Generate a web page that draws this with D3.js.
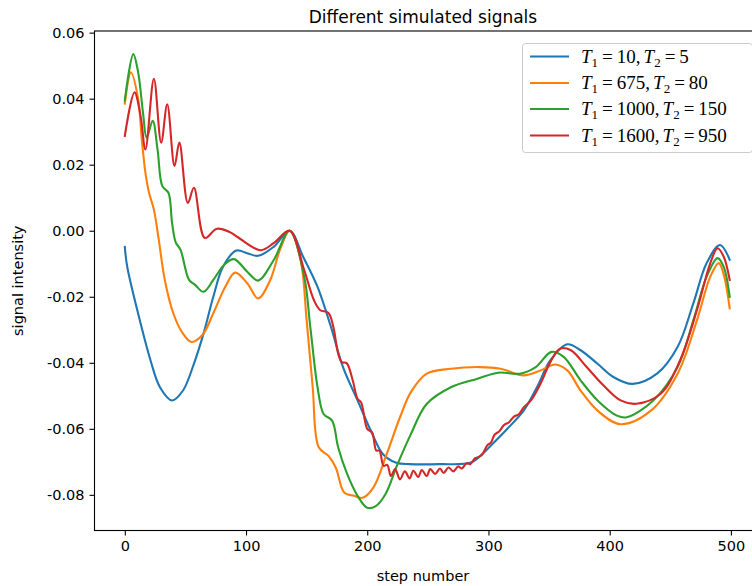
<!DOCTYPE html>
<html>
<head>
<meta charset="utf-8">
<script src="https://cdn.jsdelivr.net/npm/d3@7"></script>
<style>
  html, body { margin: 0; padding: 0; background: #fff; }
  svg { display: block; }
</style>
</head>
<body>
<svg id="chart" width="752" height="586"></svg>
<script>
// ---------- data ----------
const title = "Different simulated signals";
const xLabel = "step number";
const yLabel = "signal intensity";
const xTicks = [0, 100, 200, 300, 400, 500];
const yTicks = [0.06, 0.04, 0.02, 0.00, -0.02, -0.04, -0.06, -0.08];
const yTickLabels = ["0.06", "0.04", "0.02", "0.00", "-0.02", "-0.04", "-0.06", "-0.08"];

const seriesNames = [
  ["10", "5"],
  ["675", "80"],
  ["1000", "150"],
  ["1600", "950"]
];
const seriesColors = ["#1f77b4", "#ff7f0e", "#2ca02c", "#d62728"];

const blueSteps = [0, 2, 13, 21, 29, 39, 48, 57, 65, 73, 81, 92, 101, 110, 123, 136, 147, 159, 170, 180, 192, 203, 213, 224, 235, 260, 285, 293, 300, 315, 329, 340, 351, 365, 376, 390, 403, 419, 439, 456, 469, 480, 491, 499];
const blueValues = [-0.0049, -0.0109, -0.028, -0.039, -0.0474, -0.0514, -0.0484, -0.0403, -0.0311, -0.020, -0.0109, -0.006, -0.0068, -0.0076, -0.0048, 0.0, -0.0078, -0.017, -0.0291, -0.0413, -0.0514, -0.0606, -0.0677, -0.0703, -0.0707, -0.0707, -0.0703, -0.0683, -0.0658, -0.0602, -0.0545, -0.0474, -0.0393, -0.0344, -0.0362, -0.0403, -0.0443, -0.0464, -0.0433, -0.0352, -0.022, -0.0098, -0.0043, -0.0088];

const orangeSteps = [0, 5, 11, 14, 17, 20, 24, 28, 33, 40, 47, 55, 64, 73, 83, 91, 101, 110, 120, 128, 136, 145, 150, 155, 160, 168, 174, 181, 189, 196, 205, 216, 227, 236, 249, 269, 293, 310, 329, 343, 355, 365, 376, 390, 409, 434, 456, 472, 483, 490, 494.5, 499];
const orangeValues = [0.0385, 0.048, 0.0399, 0.0277, 0.0176, 0.0115, 0.0064, -0.0027, -0.0149, -0.025, -0.0306, -0.0337, -0.0316, -0.025, -0.0169, -0.0127, -0.0159, -0.0205, -0.0149, -0.0058, 0.0, -0.0088, -0.0271, -0.0474, -0.0656, -0.0682, -0.0717, -0.0793, -0.0803, -0.0809, -0.0778, -0.0677, -0.0565, -0.0489, -0.0433, -0.0418, -0.0413, -0.0418, -0.0438, -0.0423, -0.0405, -0.0423, -0.0484, -0.0545, -0.0586, -0.0545, -0.0433, -0.0271, -0.0139, -0.0098, -0.0139, -0.0235];

const greenSteps = [0, 7, 11, 15, 18, 23, 27, 31, 36, 39, 42, 46, 53, 58, 65, 73, 82, 90, 101, 110, 123, 136, 148, 153, 159, 164, 171, 176, 183, 192, 200, 207, 215, 225, 236, 249, 269, 291, 308, 326, 339, 352, 362, 376, 390, 406, 414, 436, 456, 469, 480, 489, 494, 499];
const greenValues = [0.0394, 0.0535, 0.048, 0.0358, 0.0282, 0.0333, 0.0246, 0.0135, 0.0115, 0.0023, -0.0035, -0.0058, -0.0149, -0.0164, -0.0185, -0.0149, -0.0103, -0.0086, -0.0124, -0.0151, -0.0088, 0.0, -0.0139, -0.0291, -0.0474, -0.0555, -0.0575, -0.0656, -0.0733, -0.0803, -0.0839, -0.0834, -0.0798, -0.0707, -0.0616, -0.0525, -0.0474, -0.0448, -0.043, -0.0433, -0.0413, -0.0367, -0.0382, -0.0453, -0.0514, -0.056, -0.0565, -0.0514, -0.0413, -0.0271, -0.0139, -0.0083, -0.0109, -0.020];

const redSteps = [0, 8, 13, 17, 24, 30, 35, 41, 45, 52, 57, 66, 76, 87, 93, 112, 123, 136, 148, 156, 161, 168, 172, 176, 179, 183, 188, 192, 195, 200, 204, 207.5, 210, 213.5, 216.5, 219.5, 223, 227, 231, 235, 238, 242, 245, 249, 252, 256, 260, 263, 267, 271, 275, 278, 282, 285, 289, 292, 295, 299, 302, 305, 309, 313, 317, 321, 325, 329, 335, 343, 351, 359, 368, 381, 395, 409, 422, 442, 458, 472, 483, 489, 494, 499];
const redValues = [0.0287, 0.0419, 0.0348, 0.0246, 0.046, 0.0267, 0.0383, 0.0196, 0.0267, 0.0084, 0.013, -0.0022, 0.0006, -0.0005, -0.0019, -0.0059, -0.0037, 0.0, -0.0119, -0.021, -0.024, -0.0249, -0.0291, -0.0372, -0.0398, -0.0401, -0.0453, -0.0509, -0.052, -0.060, -0.0611, -0.0666, -0.0666, -0.0712, -0.0709, -0.0743, -0.0722, -0.0753, -0.0729, -0.075, -0.0727, -0.0746, -0.0725, -0.0743, -0.0722, -0.0737, -0.072, -0.0734, -0.0717, -0.0729, -0.0714, -0.072, -0.0704, -0.0707, -0.0689, -0.0685, -0.0677, -0.0650, -0.0642, -0.0618, -0.0607, -0.0588, -0.0580, -0.0563, -0.0556, -0.0535, -0.0514, -0.0463, -0.0398, -0.0357, -0.0362, -0.0413, -0.0469, -0.0514, -0.0524, -0.0494, -0.0393, -0.024, -0.0098, -0.0053, -0.0078, -0.0149];

const seriesSteps = [blueSteps, orangeSteps, greenSteps, redSteps];
const seriesValues = [blueValues, orangeValues, greenValues, redValues];

// ---------- layout ----------
const plot = { left: 94.5, right: 760, top: 31, bottom: 530.5 };
const svg = d3.select("#chart");

const x = d3.scaleLinear().domain([-25, 524]).range([plot.left, plot.right]);
const y = d3.scaleLinear().domain([-0.0908, 0.0605]).range([plot.bottom, plot.top]);

const font = "'DejaVu Sans', sans-serif";

// lines
const line = d3.line()
  .x(d => x(d[0]))
  .y(d => y(d[1]))
  .curve(d3.curveCatmullRom.alpha(0.5));

svg.append("clipPath").attr("id", "clip")
  .append("rect")
  .attr("x", plot.left).attr("y", plot.top)
  .attr("width", plot.right - plot.left).attr("height", plot.bottom - plot.top);

const gLines = svg.append("g").attr("clip-path", "url(#clip)");
seriesSteps.forEach((steps, i) => {
  const pts = steps.map((s, j) => [s, seriesValues[i][j]]);
  gLines.append("path")
    .datum(pts)
    .attr("d", line)
    .attr("fill", "none")
    .attr("stroke", seriesColors[i])
    .attr("stroke-width", 2.1)
    .attr("stroke-linejoin", "round")
    .attr("stroke-linecap", "square");
});

// axes
const xAxis = d3.axisBottom(x).tickValues(xTicks).tickSize(5).tickPadding(5).tickFormat(d3.format("d"));
const yAxis = d3.axisLeft(y).tickValues(yTicks).tickSize(5).tickPadding(5)
  .tickFormat((d, i) => yTickLabels[i]);

const gx = svg.append("g").attr("transform", `translate(0,${plot.bottom})`).call(xAxis);
const gy = svg.append("g").attr("transform", `translate(${plot.left},0)`).call(yAxis);
[gx, gy].forEach(g => {
  g.select(".domain").remove();
  g.selectAll(".tick line").attr("stroke", "#000").attr("stroke-width", 1.1);
  g.selectAll(".tick text").attr("font-family", font).attr("font-size", 14.5).attr("fill", "#000");
});

// spines
svg.append("rect")
  .attr("x", plot.left).attr("y", plot.top)
  .attr("width", plot.right - plot.left).attr("height", plot.bottom - plot.top)
  .attr("fill", "none").attr("stroke", "#000").attr("stroke-width", 1.1);

// title & labels
svg.append("text")
  .attr("x", 423).attr("y", 23)
  .attr("text-anchor", "middle")
  .attr("font-family", font).attr("font-size", 17)
  .text(title);

svg.append("text")
  .attr("x", 423).attr("y", 581)
  .attr("text-anchor", "middle")
  .attr("font-family", font).attr("font-size", 14.5)
  .text(xLabel);

svg.append("text")
  .attr("transform", `translate(23,${(plot.top + plot.bottom) / 2}) rotate(-90)`)
  .attr("text-anchor", "middle")
  .attr("font-family", font).attr("font-size", 14.5)
  .text(yLabel);

// legend
const legend = svg.append("g");
legend.append("rect")
  .attr("x", 522.5).attr("y", 43.5)
  .attr("width", 230).attr("height", 109)
  .attr("rx", 3).attr("ry", 3)
  .attr("fill", "#fff").attr("fill-opacity", 0.8)
  .attr("stroke", "#cccccc").attr("stroke-width", 1);

const legendY = [56.5, 83, 109, 135.5];
const mathFont = "'Liberation Serif', 'DejaVu Serif', serif";
seriesNames.forEach((nm, i) => {
  const ly = legendY[i];
  legend.append("line")
    .attr("x1", 530).attr("x2", 569)
    .attr("y1", ly).attr("y2", ly)
    .attr("stroke", seriesColors[i]).attr("stroke-width", 2.1);
  const t = legend.append("text")
    .attr("x", 581).attr("y", ly + 6)
    .attr("font-family", mathFont).attr("font-size", 19).attr("fill", "#000");
  t.append("tspan").attr("font-style", "italic").text("T");
  t.append("tspan").attr("font-size", 13).attr("dy", 4).text("1");
  t.append("tspan").attr("dy", -4).attr("dx", 4).text("=");
  t.append("tspan").attr("dx", 4).text(nm[0] + ",");
  t.append("tspan").attr("font-style", "italic").attr("dx", 3).text("T");
  t.append("tspan").attr("font-size", 13).attr("dy", 4).text("2");
  t.append("tspan").attr("dy", -4).attr("dx", 4).text("=");
  t.append("tspan").attr("dx", 4).text(nm[1]);
});
</script>
</body>
</html>
